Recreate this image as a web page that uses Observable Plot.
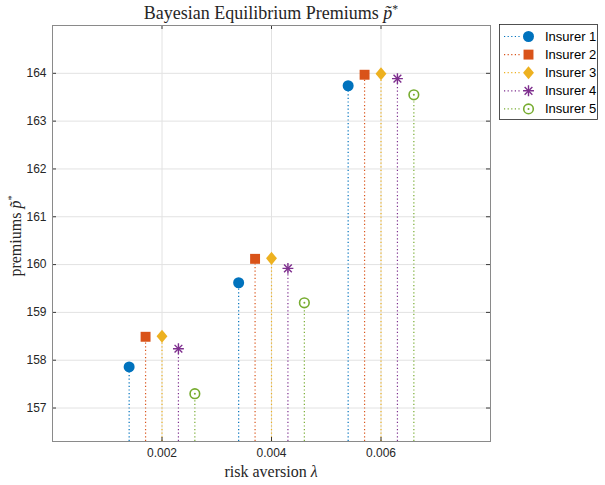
<!DOCTYPE html>
<html><head><meta charset="utf-8">
<script src="https://cdn.jsdelivr.net/npm/d3@7"></script>
<script src="https://cdn.jsdelivr.net/npm/@observablehq/plot@0.6"></script>
<style>
body{margin:0;background:#fff;}
#wrap{position:relative;width:605px;height:485px;overflow:hidden;}
.serif{font-family:"Liberation Serif","Times New Roman",serif;color:#262626;position:absolute;white-space:nowrap;line-height:1;}
.serif sup{font-size:0.65em;vertical-align:0.55em;line-height:0;}
</style></head><body><div id="wrap"></div>
<script>
// ---- data ----
const lambdas = [0.002, 0.004, 0.006];
const insurers = ["Insurer 1", "Insurer 2", "Insurer 3", "Insurer 4", "Insurer 5"];
const groupShift = [-0.0006, -0.0003, 0, 0.0003, 0.0006];
const premiums1 = [157.86, 159.62, 163.74];
const premiums2 = [158.49, 160.12, 163.97];
const premiums3 = [158.50, 160.13, 163.99];
const premiums4 = [158.24, 159.92, 163.89];
const premiums5 = [157.30, 159.20, 163.55];
const xTicks = [0.002, 0.004, 0.006];
const yTicks = [157, 158, 159, 160, 161, 162, 163, 164];
const xDomain = [0, 0.008];
const yDomain = [156.3, 165];
const colors = ["#0072BD", "#D95319", "#EDB120", "#7E2F8E", "#77AC30"];

const premiums = [premiums1, premiums2, premiums3, premiums4, premiums5];
const rows = insurers.map((name, i) => lambdas.map((l, j) => ({name, x: l + groupShift[i], p: premiums[i][j]})));

const W = 605, H = 485, mL = 52, mR = 115, mT = 25, mB = 44;
const pw = W - mL - mR, ph = H - mT - mB;
const dash = "1.2,2.4";

// MATLAB-like diamond (slightly taller than wide)
const tallDiamond = {
  draw(ctx, size) {
    const w = Math.sqrt(size) * 0.56, h = w * 1.2;
    ctx.moveTo(0, -h); ctx.lineTo(w, 0); ctx.lineTo(0, h); ctx.lineTo(-w, 0); ctx.closePath();
  }
};

const marks = [
  Plot.gridX(xTicks, {stroke: "#e2e2e2", strokeOpacity: 1}),
  Plot.gridY(yTicks, {stroke: "#e2e2e2", strokeOpacity: 1}),
];
rows.forEach((r, i) => {
  marks.push(Plot.ruleX(r, {x: "x", y1: yDomain[0], y2: "p", stroke: colors[i], strokeWidth: 1.2, strokeDasharray: dash}));
});
marks.push(Plot.dot(rows[0], {x: "x", y: "p", r: 5.5, symbol: "circle", fill: colors[0]}));
marks.push(Plot.dot(rows[1], {x: "x", y: "p", r: 5.6, symbol: "square", fill: colors[1]}));
marks.push(Plot.dot(rows[2], {x: "x", y: "p", r: 5.5, symbol: tallDiamond, fill: colors[2]}));
marks.push(Plot.dot(rows[3], {x: "x", y: "p", r: 3.6, symbol: "plus", stroke: colors[3], strokeWidth: 1.4}));
marks.push(Plot.dot(rows[3], {x: "x", y: "p", r: 3.6, symbol: "times", stroke: colors[3], strokeWidth: 1.4}));
marks.push(Plot.dot(rows[4], {x: "x", y: "p", r: 4.8, symbol: "circle", stroke: colors[4], fill: "white", strokeWidth: 1.6}));
marks.push(Plot.dot(rows[4], {x: "x", y: "p", r: 1, symbol: "circle", fill: colors[4]}));
// inward ticks on all four sides
marks.push(Plot.ruleY(yTicks, {insetRight: pw - 4, stroke: "#262626", strokeWidth: 0.9}));
marks.push(Plot.ruleY(yTicks, {insetLeft: pw - 4, stroke: "#262626", strokeWidth: 0.9}));
marks.push(Plot.ruleX(xTicks, {insetTop: ph - 4, stroke: "#262626", strokeWidth: 0.9}));
marks.push(Plot.ruleX(xTicks, {insetBottom: ph - 4, stroke: "#262626", strokeWidth: 0.9}));
marks.push(Plot.frame({stroke: "#8a8a8a"}));
marks.push(Plot.axisX(xTicks, {tickSize: 0, tickPadding: 7, tickFormat: d3.format(".3f"), label: null}));
marks.push(Plot.axisY(yTicks, {tickSize: 0, tickPadding: 6, label: null}));

const chart = Plot.plot({
  width: W, height: H,
  marginLeft: mL, marginRight: mR, marginTop: mT, marginBottom: mB,
  x: {domain: xDomain},
  y: {domain: yDomain},
  style: {fontFamily: "'Liberation Sans', Arial, sans-serif", fontSize: "12px", color: "#262626", background: "white"},
  marks
});
const wrap = document.getElementById("wrap");
wrap.appendChild(chart);

// title and axis labels
const cx = mL + pw / 2;
const title = document.createElement("div");
title.className = "serif";
title.style.cssText = `left:${cx}px;top:13px;font-size:18px;transform:translate(-50%,-50%);`;
title.innerHTML = "Bayesian Equilibrium Premiums <i>p&#x0303;</i><sup>*</sup>";
wrap.appendChild(title);

const xl = document.createElement("div");
xl.className = "serif";
xl.style.cssText = `left:${cx}px;top:472px;font-size:16px;transform:translate(-50%,-50%);`;
xl.innerHTML = "risk aversion <i>&lambda;</i>";
wrap.appendChild(xl);

const yl = document.createElement("div");
yl.className = "serif";
yl.style.cssText = `left:16px;top:236px;font-size:16px;transform:translate(-50%,-50%) rotate(-90deg);`;
yl.innerHTML = "premiums <i>p&#x0303;</i><sup>*</sup>";
wrap.appendChild(yl);

// legend
const lg = d3.select(wrap).append("svg")
  .attr("width", 100).attr("height", 97)
  .style("position", "absolute").style("left", "499px").style("top", "24px");
lg.append("rect").attr("x", 0.5).attr("y", 0.5).attr("width", 98).attr("height", 95)
  .attr("fill", "white").attr("stroke", "#262626").attr("stroke-width", 0.8);
const sym = [
  {type: d3.symbolCircle, r: 5.5, fill: true},
  {type: d3.symbolSquare, r: 5.6, fill: true},
  {type: tallDiamond, r: 5.5, fill: true},
  {type: "ast", r: 3.6},
  {type: d3.symbolCircle, r: 4.8, fill: false}
];
insurers.forEach((name, i) => {
  const y = 12.5 + i * 18.1;
  const g = lg.append("g");
  g.append("line").attr("x1", 5).attr("x2", 23).attr("y1", y).attr("y2", y)
    .attr("stroke", colors[i]).attr("stroke-width", 1.2).attr("stroke-dasharray", dash);
  const s = sym[i];
  const tr = `translate(29.5,${y})`;
  if (s.type === "ast") {
    [d3.symbolPlus, d3.symbolTimes].forEach(t => g.append("path").attr("transform", tr)
      .attr("d", d3.symbol(t, Math.PI * s.r * s.r)()).attr("stroke", colors[i]).attr("stroke-width", 1.4).attr("fill", "none"));
  } else if (s.fill) {
    g.append("path").attr("transform", tr).attr("d", d3.symbol(s.type, Math.PI * s.r * s.r)()).attr("fill", colors[i]);
  } else {
    g.append("path").attr("transform", tr).attr("d", d3.symbol(s.type, Math.PI * s.r * s.r)())
      .attr("fill", "white").attr("stroke", colors[i]).attr("stroke-width", 1.6);
    g.append("circle").attr("cx", 29.5).attr("cy", y).attr("r", 1).attr("fill", colors[i]);
  }
  g.append("text").attr("x", 46).attr("y", y).attr("dy", "0.35em")
    .attr("font-family", "'Liberation Sans', Arial, sans-serif").attr("font-size", 13).attr("fill", "#000")
    .text(name);
});
</script></body></html>
